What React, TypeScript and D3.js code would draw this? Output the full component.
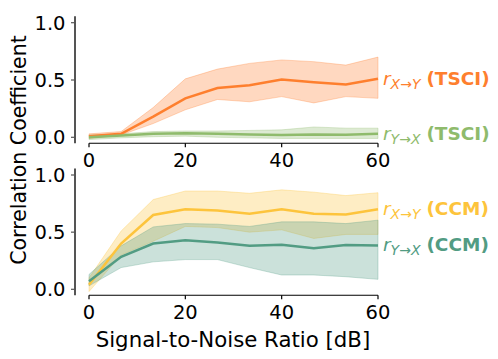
import { useEffect, useRef } from 'react';
import * as d3 from 'd3';

const snr = [0, 6.67, 13.33, 20, 26.67, 33.33, 40, 46.67, 53.33, 60];

const tsciXY = [0.01, 0.03, 0.18, 0.34, 0.43, 0.455, 0.505, 0.48, 0.46, 0.51];
const tsciXYLo = [-0.01, 0.02, 0.12, 0.24, 0.33, 0.31, 0.355, 0.3, 0.355, 0.34];
const tsciXYHi = [0.03, 0.05, 0.26, 0.51, 0.595, 0.645, 0.675, 0.66, 0.63, 0.7];

const tsciYX = [0.0, 0.015, 0.03, 0.035, 0.03, 0.025, 0.02, 0.025, 0.022, 0.03];
const tsciYXLo = [-0.02, -0.005, 0.005, 0.01, 0.0, -0.005, -0.01, -0.01, -0.01, -0.01];
const tsciYXHi = [0.02, 0.03, 0.05, 0.055, 0.055, 0.06, 0.065, 0.09, 0.08, 0.08];

const ccmXY = [0.04, 0.4, 0.65, 0.7, 0.69, 0.66, 0.7, 0.66, 0.655, 0.7];
const ccmXYLo = [-0.02, 0.3, 0.42, 0.55, 0.54, 0.5, 0.52, 0.445, 0.48, 0.48];
const ccmXYHi = [0.1, 0.51, 0.785, 0.86, 0.86, 0.84, 0.87, 0.85, 0.82, 0.845];

const ccmYX = [0.07, 0.285, 0.4, 0.43, 0.41, 0.38, 0.39, 0.36, 0.387, 0.384];
const ccmYXLo = [0.03, 0.19, 0.24, 0.26, 0.26, 0.19, 0.125, 0.125, 0.11, 0.087];
const ccmYXHi = [0.13, 0.38, 0.546, 0.575, 0.57, 0.55, 0.59, 0.59, 0.575, 0.605];

const xTicks = [0, 20, 40, 60];
const yTicks = [0, 0.5, 1];

const panels = [
  {
    top: 22.7,
    bottom: 137.3,
    series: [
      { mean: tsciXY, lo: tsciXYLo, hi: tsciXYHi, color: '#fe7f2e', sub: 'X→Y', method: '(TSCI)' },
      { mean: tsciYX, lo: tsciYXLo, hi: tsciYXHi, color: '#8fbb6c', sub: 'Y→X', method: '(TSCI)' },
    ],
  },
  {
    top: 175,
    bottom: 289.3,
    series: [
      { mean: ccmXY, lo: ccmXYLo, hi: ccmXYHi, color: '#fdc43c', sub: 'X→Y', method: '(CCM)' },
      { mean: ccmYX, lo: ccmYXLo, hi: ccmYXHi, color: '#529c83', sub: 'Y→X', method: '(CCM)' },
    ],
  },
];

const App = () => {
  const svgRef = useRef<SVGSVGElement>(null);

  useEffect(() => {
    const width = 498;
    const height = 359;
    const svg = d3.select(svgRef.current).attr('width', width).attr('height', height);
    svg.selectAll('*').remove();

    const font = 'DejaVu Sans, sans-serif';
    const x = d3.scaleLinear().domain([0, 60]).range([89, 378]);

    panels.forEach((p) => {
      const y = d3.scaleLinear().domain([0, 1]).range([p.bottom, p.top]);
      const g = svg.append('g');

      p.series.forEach((s) => {
        const area = d3
          .area<number>()
          .x((_, i) => x(snr[i]))
          .y0((_, i) => y(s.lo[i]))
          .y1((_, i) => y(s.hi[i]));
        g.append('path')
          .attr('d', area(s.mean))
          .attr('fill', s.color)
          .attr('fill-opacity', 0.3)
          .attr('stroke', s.color)
          .attr('stroke-opacity', 0.3)
          .attr('stroke-width', 1);
      });

      p.series.forEach((s) => {
        const line = d3
          .line<number>()
          .x((_, i) => x(snr[i]))
          .y((d) => y(d));
        g.append('path')
          .attr('d', line(s.mean))
          .attr('fill', 'none')
          .attr('stroke', s.color)
          .attr('stroke-width', 2.5);

        const last = s.mean[s.mean.length - 1];
        const t = g
          .append('text')
          .attr('x', x(60) + 5)
          .attr('y', y(last) + 6)
          .attr('fill', s.color)
          .style('font-family', font)
          .style('font-size', '18.5px');
        t.append('tspan').attr('font-style', 'italic').text('r');
        t.append('tspan')
          .attr('font-style', 'italic')
          .attr('font-size', '14px')
          .attr('dy', 4)
          .text(s.sub);
        t.append('tspan').attr('dy', -4).text(' ');
        t.append('tspan').attr('font-weight', 'bold').text(s.method);
      });

      // y spine is grey, x spine black and trimmed to the ticks
      const ySpine = g.append('g');
      ySpine
        .append('line')
        .attr('x1', 75)
        .attr('x2', 75)
        .attr('y1', y(1.057))
        .attr('y2', y(-0.052))
        .attr('stroke', '#555')
        .attr('stroke-width', 2);
      yTicks.forEach((v) => {
        ySpine
          .append('line')
          .attr('x1', 71)
          .attr('x2', 75)
          .attr('y1', y(v))
          .attr('y2', y(v))
          .attr('stroke', '#555')
          .attr('stroke-width', 1.2);
        ySpine
          .append('text')
          .attr('x', 65.5)
          .attr('y', y(v) + 7)
          .attr('text-anchor', 'end')
          .style('font-family', font)
          .style('font-size', '19.5px')
          .text(d3.format('.1f')(v));
      });

      const axisY = y(-0.052);
      g.append('line')
        .attr('x1', x(0))
        .attr('x2', x(60))
        .attr('y1', axisY)
        .attr('y2', axisY)
        .attr('stroke', '#000')
        .attr('stroke-width', 1.2);
      xTicks.forEach((v) => {
        g.append('line')
          .attr('x1', x(v))
          .attr('x2', x(v))
          .attr('y1', axisY)
          .attr('y2', axisY + 4)
          .attr('stroke', '#000')
          .attr('stroke-width', 1.2);
        g.append('text')
          .attr('x', x(v))
          .attr('y', axisY + 24)
          .attr('text-anchor', 'middle')
          .style('font-family', font)
          .style('font-size', '19.5px')
          .text(v);
      });
    });

    svg
      .append('text')
      .attr('x', 233)
      .attr('y', 347)
      .attr('text-anchor', 'middle')
      .style('font-family', font)
      .style('font-size', '21.3px')
      .text('Signal-to-Noise Ratio [dB]');

    svg
      .append('text')
      .attr('transform', 'translate(26,150) rotate(-90)')
      .attr('text-anchor', 'middle')
      .style('font-family', font)
      .style('font-size', '20.5px')
      .text('Correlation Coefficient');
  }, []);

  return (
    <div style={{ position: 'absolute', left: 0, top: 0 }}>
      <svg ref={svgRef}></svg>
    </div>
  );
};

export default App;
